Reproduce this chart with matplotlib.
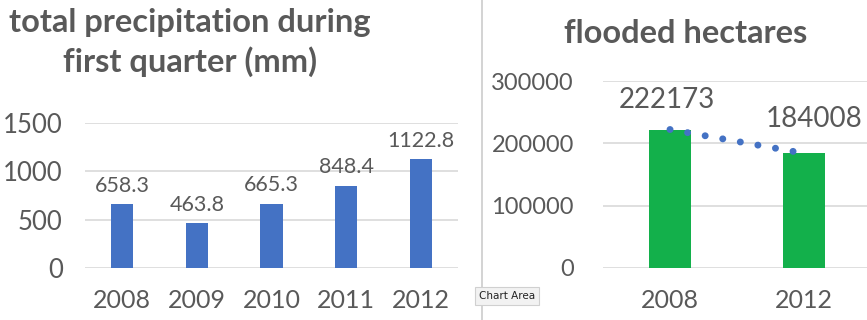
import matplotlib
matplotlib.use("Agg")
import matplotlib.pyplot as plt
from matplotlib.lines import Line2D

plt.rcParams['font.family'] = ['Lato', 'DejaVu Sans']

# precipitation data
years_precip = ["2008", "2009", "2010", "2011", "2012"]
precip_mm = [658.3, 463.8, 665.3, 848.4, 1122.8]
precip_labels = ["658.3", "463.8", "665.3", "848.4", "1122.8"]
precip_ticks = [0, 500, 1000, 1500]

# flooded area data
years_flood = ["2008", "2012"]
flooded_ha = [222173, 184008]
flood_labels = ["222173", "184008"]
flood_ticks = [0, 100000, 200000, 300000]

TEXT = "#595959"
GRID = "#D9D9D9"
BLUE = "#4472C4"
GREEN = "#13B04B"

W, H = 867, 320
fig = plt.figure(figsize=(W / 100, H / 100), dpi=100)
fig.patch.set_facecolor("white")


def px_axes(x0, x1, ytop, ybot):
    return fig.add_axes([x0 / W, (H - ybot) / H, (x1 - x0) / W, (ybot - ytop) / H])


def style(ax, ticks, ypad, xpad, ysize, xsize):
    for s in ax.spines.values():
        s.set_visible(False)
    ax.set_yticks(ticks)
    ax.set_yticklabels([str(t) for t in ticks])
    ax.set_ylim(ticks[0], ticks[-1])
    ax.yaxis.grid(True, color=GRID, linewidth=1.2)
    ax.set_axisbelow(True)
    ax.tick_params(axis="y", length=0, pad=ypad, labelsize=ysize, labelcolor=TEXT)
    ax.tick_params(axis="x", length=0, pad=xpad, labelsize=xsize, labelcolor=TEXT)


# left chart: precipitation
ax1 = px_axes(85, 458, 123, 268)
xs1 = range(len(years_precip))
ax1.bar(xs1, precip_mm, width=0.3, color=BLUE)
ax1.set_xlim(-0.5, len(years_precip) - 0.5)
ax1.set_xticks(list(xs1))
ax1.set_xticklabels(years_precip)
style(ax1, precip_ticks, 16, 15, 18.5, 18)
for x, v, lab in zip(xs1, precip_mm, precip_labels):
    ax1.annotate(lab, (x, v), xytext=(0, 9), textcoords="offset points",
                 ha="center", va="baseline", fontsize=15.5, color=TEXT)

fig.text(190 / W, 1 - 32 / H, "total precipitation during", ha="center", va="baseline",
         fontsize=23.5, fontweight="bold", color=TEXT)
fig.text(190 / W, 1 - 72 / H, "first quarter (mm)", ha="center", va="baseline",
         fontsize=23.5, fontweight="bold", color=TEXT)

# right chart: flooded hectares
ax2 = px_axes(603, 871, 81, 268)
xs2 = range(len(years_flood))
ax2.bar(xs2, flooded_ha, width=0.32, color=GREEN)
ax2.set_xlim(-0.5, len(years_flood) - 0.5)
ax2.set_xticks(list(xs2))
ax2.set_xticklabels(years_flood)
style(ax2, flood_ticks, 21, 15, 17, 18)
# linear trend through the two points, drawn as round dots
ax2.plot(list(xs2), flooded_ha, color=BLUE, linewidth=5, linestyle=(0, (0.01, 2.56)),
         dash_capstyle="round", solid_capstyle="round", zorder=5)
for x, v, lab, dx, dy in zip(xs2, flooded_ha, flood_labels, (-2, 7), (15.5, 19)):
    ax2.annotate(lab, (x, v), xytext=(dx, dy), textcoords="offset points",
                 ha="center", va="baseline", fontsize=20, color=TEXT)

fig.text(686 / W, 1 - 43 / H, "flooded hectares", ha="center", va="baseline",
         fontsize=23.5, fontweight="bold", color=TEXT)

# divider between the two charts
fig.add_artist(Line2D([482 / W, 482 / W], [0, 1], color="#CCCCCC", linewidth=1.2))

# hover tooltip
fig.text(507 / W, 1 - 296 / H, "Chart Area", ha="center", va="center", fontsize=7.5,
         color="#222222", family=["DejaVu Sans"],
         bbox=dict(boxstyle="square,pad=0.35", facecolor="#F2F2F2", edgecolor="#D0D0D0",
                   linewidth=0.8))

fig.savefig("out.png", dpi=100, facecolor="white")
